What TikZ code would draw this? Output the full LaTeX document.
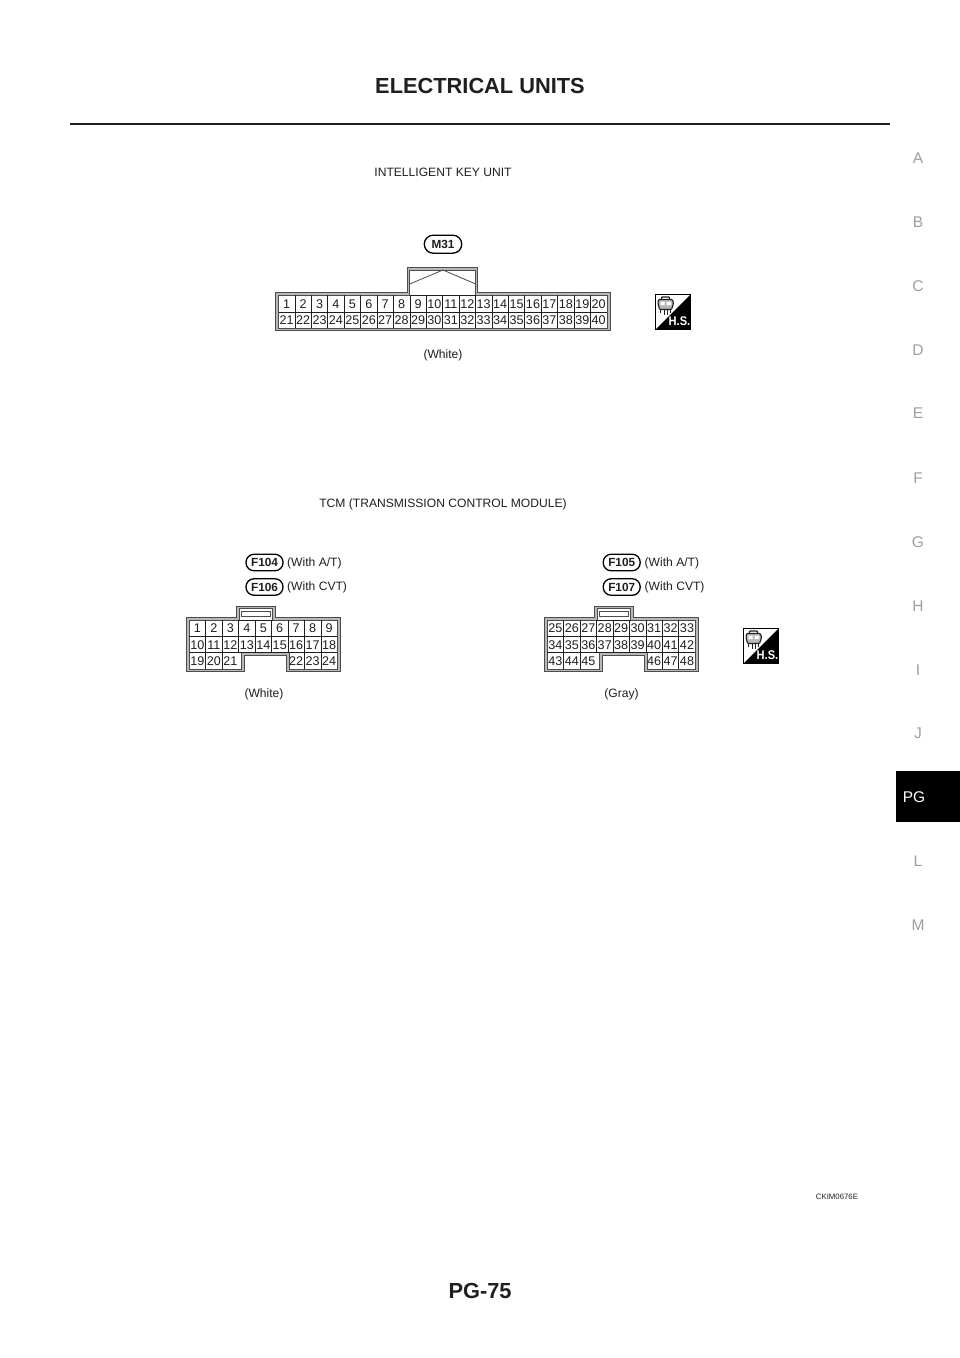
\documentclass[tikz,border=0pt]{standalone}
\usepackage{fontspec}
\setmainfont{Liberation Sans}
\definecolor{ink}{gray}{0.12}
\definecolor{sidegray}{gray}{0.62}
\definecolor{wall}{gray}{0.3}
\definecolor{wallgap}{gray}{0.72}
\tikzset{
  headtext/.style={font=\fontsize{21.8}{24}\selectfont\bfseries,text=ink,inner sep=0pt},
  sidetext/.style={font=\fontsize{15.5}{18}\selectfont,text=sidegray,inner sep=0pt},
  label/.style={font=\fontsize{12.1}{14}\selectfont,text=ink,inner sep=0pt},
  pin/.style={font=\fontsize{12.6}{14}\selectfont,text=ink,inner sep=0pt,text height=9pt,text depth=0pt},
  pill/.style={draw=black,line width=1.3pt,rounded corners=8pt,font=\fontsize{11.8}{13}\selectfont\bfseries,text=ink,inner sep=0pt,minimum height=16.5pt,minimum width=37pt},
  wallout/.style={draw=wall,fill=wallgap,line width=.8pt},
  wallin/.style={draw=wall,fill=white,line width=.8pt},
  grid/.style={draw=ink,line width=.7pt}
}
\newcommand{\hsicon}[3]{%
  \begin{scope}[shift={(#2,#3)}]
    \draw[draw=black,fill=white,line width=.6pt] (0,0) rectangle (35,35);
    \fill[black] (35,0) -- (35,35) -- (0,35) -- cycle;
    \draw[line width=1.2pt,draw=ink,rounded corners=.8pt] (6,5) -- (6,2.5) -- (14,2.5) -- (14,5);
    \draw[line width=1.1pt,draw=ink,fill=wallgap,rounded corners=1pt] (3,5) -- (17,5) -- (18,9) -- (16,15) -- (4,15) -- (2.5,9) -- cycle;
    \fill[white] (5,7) rectangle (9,10.5) (11,7) rectangle (15.5,10.5);
    \draw[line width=1.2pt,draw=ink] (5,15) -- (5,18) (9,15) -- (9,20) (12,15) -- (12,20) (15,15) -- (15,18);
    \node[inner sep=0pt,text=white,font=\fontsize{12.6}{14}\selectfont\bfseries,xscale=.88] (#1) at (24,27) {H.S.};
  \end{scope}}
\newcommand{\ninecon}[2]{%
  \begin{scope}[shift={(#1,0)}]
    \draw[wallout] (0,617.7) -- (50,617.7) -- (50,606) -- (88.5,606) -- (88.5,617.7) -- (153.5,617.7) -- (153.5,671.7) -- (100,671.7) -- (100,655) -- (57.3,655) -- (57.3,671.7) -- (0,671.7) -- cycle;
    \draw[wallin] (2.6,620) -- (52.6,620) -- (52.6,608.5) -- (86,608.5) -- (86,620) -- (150.7,620) -- (150.7,669) -- (102.6,669) -- (102.6,652.5) -- (54.8,652.5) -- (54.8,669) -- (2.6,669) -- cycle;
    \draw[wall,fill=white,line width=.9pt] (55,611.7) rectangle (83.5,616.7);
    \draw[grid] (52.6,620) -- (86,620);
    \foreach \k in {1,...,8} \draw[grid] ({2.6+16.45*\k},620) -- ({2.6+16.45*\k},652.5);
    \foreach \k in {1,2,7,8} \draw[grid] ({2.6+16.45*\k},652.5) -- ({2.6+16.45*\k},669);
    \draw[grid] (2.6,636) -- (150.7,636) (2.6,652.5) -- (150.7,652.5);
    #2
  \end{scope}}
\begin{document}
\begin{tikzpicture}[x=1pt,y=-1pt]
\useasboundingbox (0,0) rectangle (960,1358);
\fill[white] (0,0) rectangle (960,1358);
\node[headtext] (title) at (480,86) {ELECTRICAL UNITS};
\draw[line width=2.4pt,draw=ink] (70,124) -- (890,124);
\node[headtext] (page) at (480,1291) {PG-75};
\foreach \t/\y in {A/158,B/222,C/286,D/350,E/413,F/478,G/542,H/606,I/670,J/733,L/861,M/925}
  \node[sidetext] (side\t) at (918,\y) {\t};
\fill[black] (896,771) rectangle (960,822);
\node[sidetext,text=white] (sidePG) at (914,797) {PG};
\node[inner sep=0pt,text=ink,font=\fontsize{7.8}{9}\selectfont] (code) at (837,1196.5) {CKIM0676E};

\node[label] (ikey) at (443,172.5) {INTELLIGENT KEY UNIT};
\node[pill,minimum width=37.5pt,minimum height=18pt,rounded corners=9pt] (m31) at (443,244.2) {M31};
\draw[wallout] (275.7,292.7) -- (407.7,292.7) -- (407.7,267.7) -- (477.7,267.7) -- (477.7,292.7) -- (610,292.7) -- (610,330) -- (275.7,330) -- cycle;
\draw[wallin] (278.5,295) -- (409.7,295) -- (409.7,270) -- (475.7,270) -- (475.7,295) -- (607,295) -- (607,328) -- (278.5,328) -- cycle;
\draw[wall,line width=.8pt] (409.7,284) -- (443,270) -- (475.7,284);
\draw[grid] (409.7,295) -- (475.7,295);
\foreach \k in {1,...,19} \draw[grid] ({278.5+16.42*\k},295) -- ({278.5+16.42*\k},328);
\draw[grid] (278.5,312) -- (607,312);
\foreach \k in {1,...,20} {
  \pgfmathtruncatemacro{\b}{\k+20}
  \node[pin] (ma\k) at ({286.7+16.42*(\k-1)},303.5) {\k};
  \node[pin] (mb\k) at ({286.7+16.42*(\k-1)},320) {\b};
}
\node[label] (mwhite) at (443,355) {(White)};
\hsicon{hsa}{655.5}{294.5}

\node[label] (tcm) at (443,504) {TCM (TRANSMISSION CONTROL MODULE)};
\node[pill] (f104) at (264.5,562.5) {F104};
\node[pill] (f106) at (264.5,587) {F106};
\node[label,anchor=west] (f104t) at (287,563.5) {(With A/T)};
\node[label,anchor=west] (f106t) at (287,587.5) {(With CVT)};
\node[pill] (f105) at (621.7,562.5) {F105};
\node[pill] (f107) at (621.7,587) {F107};
\node[label,anchor=west] (f105t) at (644.5,563.5) {(With A/T)};
\node[label,anchor=west] (f107t) at (644.5,587.5) {(With CVT)};

\ninecon{186.7}{
  \foreach \k in {1,...,9} {
    \pgfmathtruncatemacro{\b}{\k+9}
    \node[pin] (fa\k) at ({10.8+16.45*(\k-1)},628) {\k};
    \node[pin] (fb\k) at ({10.8+16.45*(\k-1)},644.5) {\b};
  }
  \foreach \k/\c in {19/1,20/2,21/3,22/7,23/8,24/9}
    \node[pin] (fc\k) at ({10.8+16.45*(\c-1)},661) {\k};
}
\ninecon{544.6}{
  \foreach \k in {1,...,9} {
    \pgfmathtruncatemacro{\a}{\k+24}
    \pgfmathtruncatemacro{\b}{\k+33}
    \node[pin] (ga\k) at ({10.8+16.45*(\k-1)},628) {\a};
    \node[pin] (gb\k) at ({10.8+16.45*(\k-1)},644.5) {\b};
  }
  \foreach \k/\c in {43/1,44/2,45/3,46/7,47/8,48/9}
    \node[pin] (gc\k) at ({10.8+16.45*(\c-1)},661) {\k};
}
\node[label] (fwhite) at (264,694) {(White)};
\node[label] (fgray) at (621.5,694) {(Gray)};
\hsicon{hsb}{743.5}{628.5}
\end{tikzpicture}
\end{document}
